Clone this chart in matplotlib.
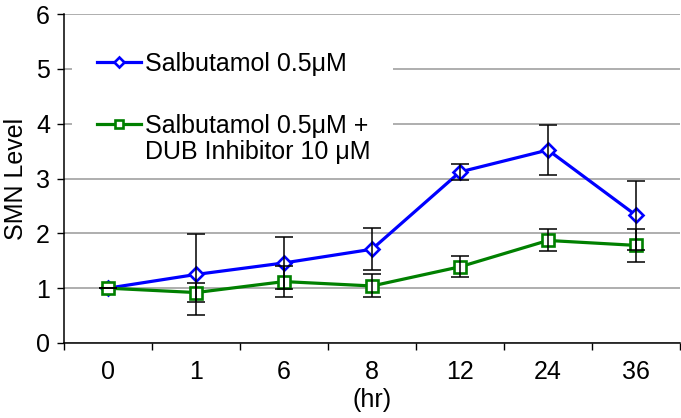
import matplotlib.pyplot as plt
import numpy as np

plt.rcParams['font.family'] = ['Liberation Sans', 'DejaVu Sans']

hours = ['0', '1', '6', '8', '12', '24', '36']
salb = [1.0, 1.25, 1.46, 1.71, 3.12, 3.52, 2.33]
salb_err = [0.0, 0.74, 0.47, 0.38, 0.14, 0.45, 0.63]
salb_dub = [1.0, 0.92, 1.12, 1.04, 1.39, 1.87, 1.78]
salb_dub_err = [0.0, 0.17, 0.28, 0.21, 0.19, 0.20, 0.30]

x = np.arange(len(hours))
fs = 18

fig = plt.figure(figsize=(6.81, 4.18), dpi=100)
ax = fig.add_axes([64 / 681, 1 - 343 / 418, 616 / 681, 329 / 418])

blue = '#0000ff'
green = '#008000'

l1, = ax.plot(x, salb, color=blue, lw=2.3, marker='D', ms=7.5,
              mfc='white', mec=blue, mew=1.9, zorder=3,
              label='Salbutamol 0.5μM')
l2, = ax.plot(x, salb_dub, color=green, lw=2.3, marker='s', ms=8.5,
              mfc='white', mec=green, mew=1.9, zorder=3,
              label='Salbutamol 0.5μM +')

# error bars on top of the markers like in the original
for vals, errs in [(salb, salb_err), (salb_dub, salb_dub_err)]:
    ax.errorbar(x, vals, yerr=errs, fmt='none', ecolor='black',
                elinewidth=1.1, capsize=6.5, capthick=1.1, zorder=4)

ax.set_ylim(0, 6)
ax.set_xlim(-0.5, 6.5)
ax.set_yticks(range(7))
ax.set_xticks(x)
ax.set_xticklabels(hours)
ax.set_xticks(np.arange(-0.5, 7, 1), minor=True)
ax.tick_params(axis='x', which='major', length=0, pad=12, labelsize=fs)
ax.tick_params(axis='x', which='minor', length=5, width=1, direction='out')
ax.tick_params(axis='y', length=5, width=1, direction='out', pad=5, labelsize=fs)

ax.yaxis.grid(True, color='#999999', lw=1.1)
ax.set_axisbelow(True)
for s in ['top', 'right']:
    ax.spines[s].set_visible(False)
for s in ['left', 'bottom']:
    ax.spines[s].set_linewidth(1.1)

ax.set_xlabel('(hr)', fontsize=fs, labelpad=3)
ax.set_ylabel('SMN Level', fontsize=fs, labelpad=6)

leg = ax.legend(handles=[l1, l2], loc='upper left',
                bbox_to_anchor=(0.013, 0.96), borderaxespad=0,
                fontsize=fs, frameon=True, fancybox=False,
                handlelength=1.75, handletextpad=0.15, labelspacing=1.5,
                borderpad=1.0, markerscale=0.65)
leg.get_frame().set_facecolor('white')
leg.get_frame().set_edgecolor('none')
leg.get_frame().set_alpha(1)

ax.annotate('DUB Inhibitor 10 μM', xy=(0, 0), xycoords=leg.get_texts()[1],
            xytext=(0, -21), textcoords='offset pixels', va='baseline',
            fontsize=fs, zorder=6)

plt.savefig('out.png', dpi=100)
